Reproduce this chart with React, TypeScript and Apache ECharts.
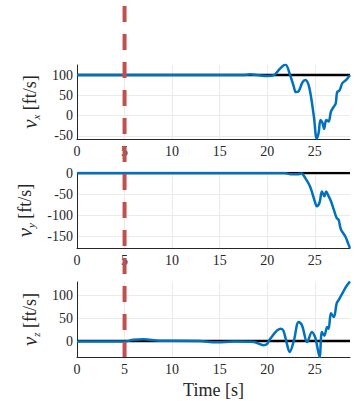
import React, { useEffect, useRef } from "react";
import * as echarts from "echarts";

const xTicks = [0, 5, 10, 15, 20, 25];
const tMax = 28.7;
const markerTime = 5;

const vxTicks = [-50, 0, 50, 100];
const vyTicks = [-150, -100, -50, 0];
const vzTicks = [0, 50, 100];

const vxRef = 100;
const vyRef = 0;
const vzRef = 0;

const vxData: [number, number][] = [
  [0, 100], [5, 100], [10, 100], [15, 100], [17.5, 100], [18.2, 102], [19, 100], [20, 98], [20.7, 100],
  [21.3, 115], [21.9, 126], [22.4, 100], [22.8, 71], [23.0, 58], [23.3, 60], [23.7, 82], [24.0, 88],
  [24.4, 71], [24.9, -2], [25.2, -57], [25.4, -43], [25.6, -11], [25.8, -18], [25.98, -33], [26.2, -11],
  [26.45, -15], [26.7, 10], [27.0, 22], [27.2, 30], [27.35, 58], [27.6, 62], [27.9, 80], [28.3, 88], [28.7, 100],
];

const vyData: [number, number][] = [
  [0, 0], [5, 0], [10, 0], [15, 0], [20, 0], [21.8, 0], [22.5, -3], [23.2, -3], [23.6, -1], [24.0, -12],
  [24.5, -32], [25.05, -71], [25.2, -79], [25.5, -70], [25.75, -44], [26.0, -55], [26.2, -44], [26.45, -55],
  [26.7, -67], [27.0, -87], [27.3, -107], [27.5, -111], [27.75, -134], [28.2, -150], [28.55, -170], [28.7, -178],
];

const vzData: [number, number][] = [
  [0, -1], [5, -1], [5.9, 3], [7, 4], [8.7, 1], [10.1, 1], [12.9, 0], [14.7, -2.5], [16.5, -1], [18.6, -2],
  [19.6, -9], [20.0, -6], [20.3, 5], [21.4, 27], [21.7, 23], [22.1, -9], [22.35, -24], [22.8, 1],
  [23.3, 42], [23.65, 35], [24.2, -2], [24.7, 20], [25.05, 8], [25.2, -6], [25.5, -35], [25.75, 20],
  [26.0, 12], [26.3, 31], [26.45, 27], [26.7, 61], [27.0, 53], [27.3, 83], [27.5, 90], [27.9, 105],
  [28.3, 120], [28.7, 131],
];

const FONT = "'Liberation Serif', 'DejaVu Serif', serif";
const AXIS = "#262626";
const GRIDC = "#ebebeb";

export default function App() {
  const ref = useRef<HTMLDivElement>(null);
  useEffect(() => {
    if (!ref.current) return;
    const chart = echarts.init(ref.current, undefined, { renderer: "svg" });
    const grids = [
      { left: 77, right: 9, top: 65, height: 74 },
      { left: 77, right: 9, top: 173, height: 75 },
      { left: 77, right: 9, top: 282, height: 75 },
    ];
    const yDefs = [
      { min: -58, max: 125, ticks: vxTicks, sub: "x" },
      { min: -178, max: 0, ticks: vyTicks, sub: "y" },
      { min: -35, max: 130, ticks: vzTicks, sub: "z" },
    ];
    const xAxis = grids.map((_, i) => ({
      type: "value",
      gridIndex: i,
      min: 0,
      max: tMax,
      axisLine: { show: true, onZero: false, lineStyle: { color: AXIS, width: 1 } },
      axisTick: { show: false, customValues: xTicks },
      axisLabel: { customValues: xTicks, color: AXIS, fontFamily: FONT, fontSize: 14, margin: 5 },
      splitLine: { show: true, lineStyle: { color: GRIDC, width: 1 } },
      name: i === 2 ? "Time [s]" : "",
      nameLocation: "middle",
      nameGap: 24,
      nameTextStyle: { color: AXIS, fontFamily: FONT, fontSize: 18 },
    }));
    const yAxis = yDefs.map((d, i) => ({
      type: "value",
      gridIndex: i,
      min: d.min,
      max: d.max,
      axisLine: { show: true, lineStyle: { color: AXIS, width: 1 } },
      axisTick: { show: false, customValues: d.ticks },
      axisLabel: { customValues: d.ticks, color: AXIS, fontFamily: FONT, fontSize: 14, margin: 4 },
      splitLine: { show: true, lineStyle: { color: GRIDC, width: 1 } },
      name: `{v|v}{s|${d.sub}} {n|[ft/s]}`,
      nameLocation: "middle",
      nameGap: 29,
      nameRotate: 90,
      nameTextStyle: {
        color: AXIS,
        fontFamily: FONT,
        fontSize: 18,
        rich: {
          v: { fontFamily: FONT, fontStyle: "italic", fontSize: 21, color: AXIS, lineHeight: 22, verticalAlign: "middle" },
          s: { fontFamily: FONT, fontStyle: "italic", fontSize: 11, color: AXIS, lineHeight: 22, verticalAlign: "bottom" },
          n: { fontFamily: FONT, fontSize: 18, color: AXIS, lineHeight: 22, verticalAlign: "middle" },
        },
      },
    }));
    const refs = [vxRef, vyRef, vzRef];
    const datas = [vxData, vyData, vzData];
    const series: any[] = [];
    for (let i = 0; i < 3; i++) {
      series.push({
        type: "line",
        xAxisIndex: i,
        yAxisIndex: i,
        data: [[0, refs[i]], [tMax, refs[i]]],
        showSymbol: false,
        symbol: "none",
        lineStyle: { color: "#000000", width: 2.5 },
        z: 2,
      });
      series.push({
        type: "line",
        xAxisIndex: i,
        yAxisIndex: i,
        data: datas[i],
        showSymbol: false,
        symbol: "none",
        smooth: 0.35,
        lineStyle: { color: "#0072BD", width: 2.5 },
        z: 3,
      });
    }
    chart.setOption({
      animation: false,
      backgroundColor: "#ffffff",
      grid: grids,
      xAxis,
      yAxis,
      series,
    });
    const px = chart.convertToPixel({ xAxisIndex: 0 }, markerTime) as number;
    const bottom = chart.convertToPixel({ yAxisIndex: 2 }, yDefs[2].min) as number;
    chart.setOption({
      graphic: [
        {
          type: "line",
          z: 100,
          shape: { x1: px, y1: 6, x2: px, y2: bottom },
          style: { stroke: "#C0504D", lineWidth: 4, lineDash: [16, 12] },
        },
      ],
    });
    return () => chart.dispose();
  }, []);
  return (
    <div
      ref={ref}
      style={{ position: "absolute", left: 0, top: 0, width: 359, height: 401 }}
    />
  );
}
